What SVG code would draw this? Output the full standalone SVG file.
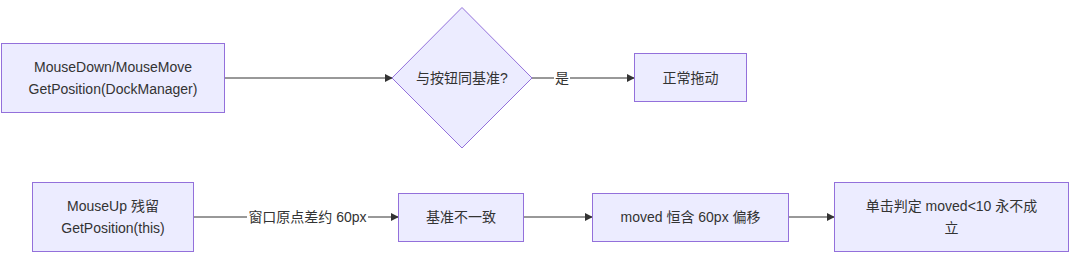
<svg xmlns="http://www.w3.org/2000/svg" width="1080" height="255" viewBox="0 0 1080 255">
<defs>
<style>
.node{fill:#ECECFF;stroke:#9370DB;stroke-width:1}
.t{font-family:"Liberation Sans","Noto Sans CJK SC",sans-serif;font-size:14px;fill:#333333;text-anchor:middle;dominant-baseline:central}
.edge{stroke:#333333;stroke-width:1;fill:none}
.lbl{fill:#ffffff}
</style>
<marker id="arrow" viewBox="0 0 10 10" refX="9" refY="5" markerWidth="8" markerHeight="8" orient="auto" markerUnits="userSpaceOnUse">
<path d="M0,0 L10,5 L0,10 z" fill="#333333"/>
</marker>
</defs>
<rect width="1080" height="255" fill="#ffffff"/>
<g id="connectors">
<path class="edge" d="M225,78 L392,78" marker-end="url(#arrow)"/>
<path class="edge" d="M532,78 L634,78" marker-end="url(#arrow)"/>
<rect class="lbl" x="554" y="69" width="16" height="18"/>
<text class="t" x="562" y="78">是</text>
<path class="edge" d="M194,217 L398,217" marker-end="url(#arrow)"/>
<rect class="lbl" x="247" y="208" width="121" height="18"/>
<text class="t" x="307.5" y="217">窗口原点差约 60px</text>
<path class="edge" d="M524,217 L592,217" marker-end="url(#arrow)"/>
<path class="edge" d="M789,217 L834,217" marker-end="url(#arrow)"/>
</g>
<g id="nodeA">
<rect class="node" x="1.5" y="43.5" width="223" height="69"/>
<text class="t" x="113" y="67">MouseDown/MouseMove</text>
<text class="t" x="113" y="89">GetPosition(DockManager)</text>
</g>
<g id="nodeB">
<polygon class="node" points="462,7.5 532,78 462,148 392,78"/>
<text class="t" x="462" y="78">与按钮同基准?</text>
</g>
<g id="nodeC">
<rect class="node" x="634.5" y="53.5" width="112" height="48"/>
<text class="t" x="690.5" y="78">正常拖动</text>
</g>
<g id="nodeD">
<rect class="node" x="32.5" y="182.5" width="161" height="69"/>
<text class="t" x="113" y="206">MouseUp 残留</text>
<text class="t" x="113" y="228">GetPosition(this)</text>
</g>
<g id="nodeE">
<rect class="node" x="398.5" y="193.5" width="125" height="48"/>
<text class="t" x="461" y="217">基准不一致</text>
</g>
<g id="nodeF">
<rect class="node" x="592.5" y="193.5" width="196" height="48"/>
<text class="t" x="690.5" y="217">moved 恒含 60px 偏移</text>
</g>
<g id="nodeG">
<rect class="node" x="834.5" y="182.5" width="234" height="69"/>
<text class="t" x="951.5" y="206">单击判定 moved&lt;10 永不成</text>
<text class="t" x="951.5" y="228">立</text>
</g>
</svg>
